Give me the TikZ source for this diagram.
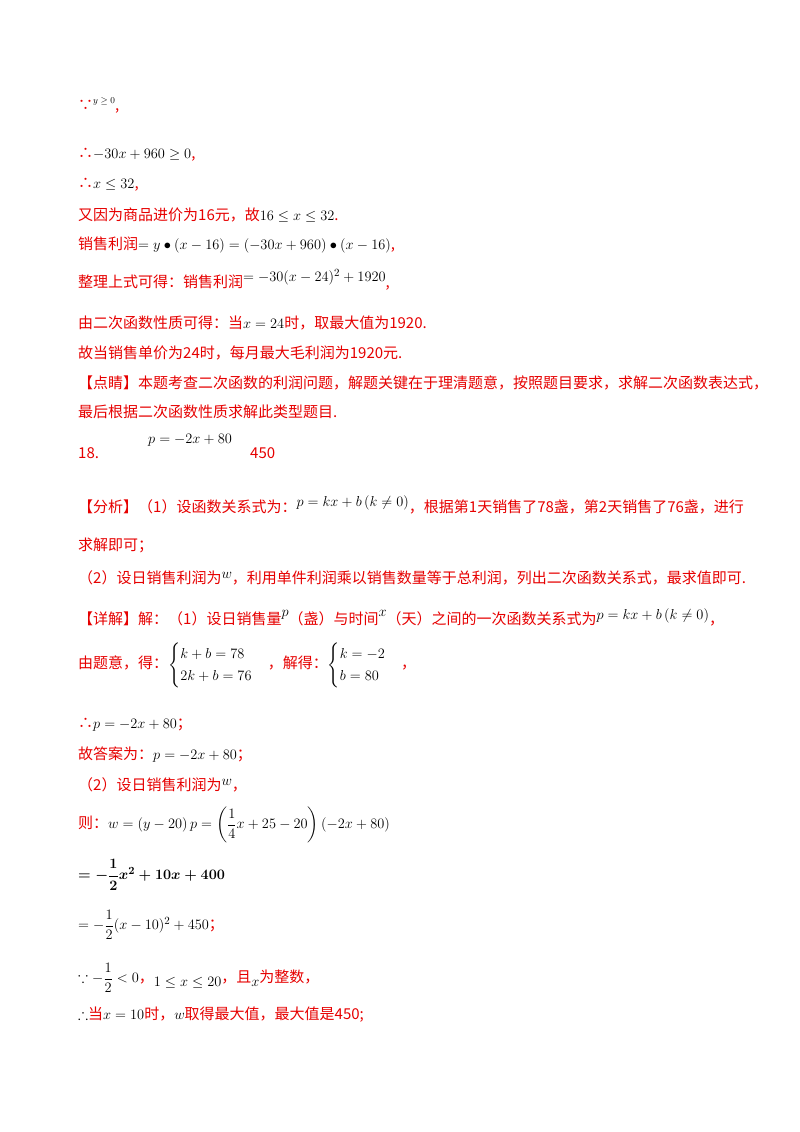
\documentclass[tikz,border=0pt]{standalone}
\usepackage{amsmath,amssymb}
\usepackage{fontspec}
\newfontfamily\cjk{Noto Sans CJK SC}
\definecolor{rd}{RGB}{230,0,0}
\newcommand{\R}[1]{{\cjk\color{rd}#1}}
\begin{document}
\begin{tikzpicture}[x=1pt,y=-1pt,
  ln/.style={anchor=west,inner sep=0pt,font=\fontsize{15}{18}\selectfont}]
\useasboundingbox (0,0) rectangle (800,1132);
\node[ln] (l1) at (78,105) {\R{∵}\raisebox{7pt}{\small$y\ge0$}\R{,}};
\node[ln] (l2) at (78,155) {\R{∴}$-30x+960\ge0$\R{,}};
\node[ln] (l3) at (78,185) {\R{∴}$x\le32$\R{,}};
\node[ln] (l4) at (78,215) {\R{又因为商品进价为16元，故}$16\le x\le32$\R{.}};
\node[ln] (l5) at (78,245) {\R{销售利润}$=y\bullet(x-16)=(-30x+960)\bullet(x-16)$\R{,}};
\node[ln] (l6) at (78,280) {\R{整理上式可得：销售利润}\raisebox{6pt}{$=-30(x-24)^2+1920$}\R{,}};
\node[ln] (l7) at (78,323) {\R{由二次函数性质可得：当}$x=24$\R{时，取最大值为1920.}};
\node[ln] (l8) at (78,353) {\R{故当销售单价为24时，每月最大毛利润为1920元.}};
\node[ln] (l9) at (78,383) {\R{【点睛】本题考查二次函数的利润问题，解题关键在于理清题意，按照题目要求，求解二次函数表达式，}};
\node[ln] (l10) at (78,412) {\R{最后根据二次函数性质求解此类型题目.}};
\node[ln] (l11) at (78,453) {\R{18.}};
\node[ln] (l12) at (148,440) {$p=-2x+80$};
\node[ln] (l13) at (250,453) {\R{450}};
\node[ln] (l14) at (78,505) {\R{【分析】（1）设函数关系式为：}\raisebox{6pt}{$p=kx+b\left(k\ne0\right)$}\R{，根据第1天销售了78盏，第2天销售了76盏，进行}};
\node[ln] (l15) at (78,545) {\R{求解即可；}};
\node[ln] (l16) at (78,578) {\R{（2）设日销售利润为}\raisebox{5pt}{$w$}\R{，利用单件利润乘以销售数量等于总利润，列出二次函数关系式，最求值即可.}};
\node[ln] (l17) at (78,617) {\R{【详解】解：（1）设日销售量}\raisebox{8pt}{$p$}\R{（盏）与时间}\raisebox{8pt}{$x$}\R{（天）之间的一次函数关系式为}\raisebox{5pt}{$p=kx+b\left(k\ne0\right)$}\R{，}};
\node[ln] (l18) at (78,665) {\R{由题意，得：}$\begin{cases}k+b=78\\2k+b=76\end{cases}$\R{，解得：}$\begin{cases}k=-2\\b=80\end{cases}$\R{，}};
\node[ln] (l19) at (78,725) {\R{∴}$p=-2x+80$\R{；}};
\node[ln] (l20) at (78,755) {\R{故答案为：}$p=-2x+80$\R{；}};
\node[ln] (l21) at (78,785) {\R{（2）设日销售利润为}\raisebox{5pt}{$w$}\R{，}};
\node[ln] (l22) at (78,825) {\R{则：}$w=\left(y-20\right)p=\left(\dfrac14x+25-20\right)\left(-2x+80\right)$};
\node[ln] (l23) at (78,875) {$\boldsymbol{=-\dfrac12x^2+10x+400}$};
\node[ln] (l24) at (78,925) {$=-\dfrac12(x-10)^2+450$\R{；}};
\node[ln] (l25) at (78,978) {$\because -\dfrac12<0$\R{，}\raisebox{-4pt}{$1\le x\le20$}\R{，且}\raisebox{-4pt}{$x$}\R{为整数，}};
\node[ln] (l26) at (78,1015) {$\therefore$\R{当}$x=10$\R{时，}$w$\R{取得最大值，最大值是450;}};
\end{tikzpicture}
\end{document}
